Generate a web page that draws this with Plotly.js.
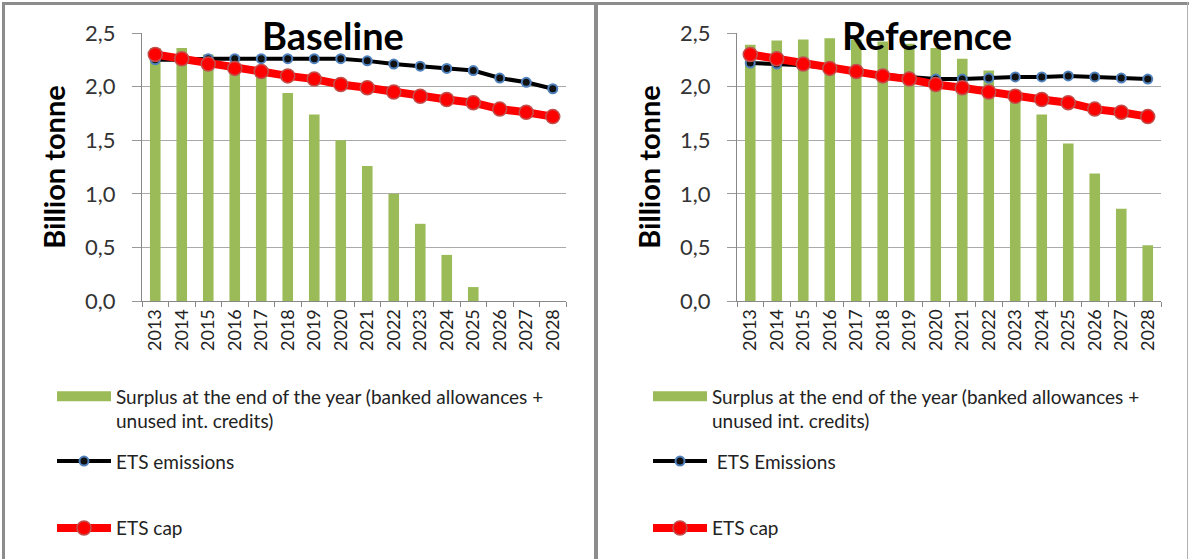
<!DOCTYPE html>
<html><head><meta charset="utf-8">
<script src="https://cdn.plot.ly/plotly-3.0.1.min.js"></script>
<style>
body{margin:0;background:#fff;width:1189px;height:559px;overflow:hidden;position:relative}
#left{position:absolute;left:0;top:0;width:597px;height:559px}
#right{position:absolute;left:598px;top:0;width:591px;height:559px}
.b{position:absolute;background:#8c8c8c;z-index:10}
</style></head><body>
<div id="left"></div><div id="right"></div>
<div class="b" style="left:2px;top:2px;width:1187px;height:3px"></div>
<div class="b" style="left:2px;top:2px;width:3px;height:557px"></div>
<div class="b" style="left:594px;top:2px;width:4px;height:557px"></div>
<div class="b" style="left:1187px;top:2px;width:1px;height:557px;background:#b0b0b0"></div>
<script>
const years = ['2013','2014','2015','2016','2017','2018','2019','2020','2021','2022','2023','2024','2025','2026','2027','2028'];
const baselineSurplus = [2.36,2.36,2.30,2.21,2.13,1.94,1.74,1.50,1.26,1.00,0.72,0.43,0.13,0,0,0];
const baselineEmissions = [2.25,2.25,2.26,2.26,2.26,2.26,2.26,2.26,2.24,2.21,2.19,2.17,2.15,2.08,2.04,1.98];
const baselineCap = [2.30,2.26,2.21,2.17,2.14,2.10,2.07,2.02,1.99,1.95,1.91,1.88,1.85,1.79,1.76,1.72];
const referenceSurplus = [2.39,2.43,2.44,2.45,2.44,2.42,2.40,2.36,2.26,2.15,1.97,1.74,1.47,1.19,0.86,0.52];
const referenceEmissions = [2.22,2.21,2.20,2.17,2.14,2.11,2.09,2.07,2.07,2.08,2.09,2.09,2.10,2.09,2.08,2.07];
const referenceCap = [2.30,2.26,2.21,2.17,2.14,2.10,2.07,2.02,1.99,1.95,1.91,1.88,1.85,1.79,1.76,1.72];
const surplusName = 'Surplus at the end of the year (banked allowances +<br>unused int. credits)';
const yTicks = [0,0.5,1,1.5,2,2.5];

const FONT = 'Lato, "Open Sans", sans-serif';
const PT = 33, PH = 268.5, PW = 424;

function draw(id, cfg){
  const W = cfg.width, H = 559;
  const traces = [
    {type:'bar', x:years, y:cfg.surplus, name:surplusName, marker:{color:'#9BBB59'}, showlegend:false, hoverinfo:'y'},
    {type:'scatter', mode:'lines', x:[years[0]], y:[null], name:surplusName, line:{color:'#9BBB59', width:10}, legend:'legend', showlegend:true, hoverinfo:'skip'},
    {type:'scatter', mode:'lines+markers', x:years, y:cfg.emissions, name:cfg.emName, legend:'legend2',
      line:{color:'#000000', width:4}, marker:{size:9, color:'#111111', line:{color:'#4F81BD', width:2}}},
    {type:'scatter', mode:'lines+markers', x:years, y:cfg.cap, name:'ETS cap', legend:'legend3',
      line:{color:'#FF0000', width:8}, marker:{size:14, color:'#FF0000', line:{color:'#C0504D', width:1.5}}}
  ];
  const px = v => (v - cfg.l) / PW;
  const py = v => 1 - (v - PT) / PH;
  const legBase = {xref:'paper', yref:'paper', xanchor:'left', yanchor:'top', bgcolor:'rgba(0,0,0,0)',
    font:{family:FONT, size:19, color:'#222'}, itemwidth:54, valign:'top', itemclick:false, itemdoubleclick:false};
  const layout = {
    width: W, height: H,
    margin:{l:cfg.l, r:W-cfg.l-PW, t:PT, b:H-PT-PH, pad:0, autoexpand:false},
    separators:', ',
    paper_bgcolor:'rgba(0,0,0,0)', plot_bgcolor:'rgba(0,0,0,0)',
    font:{family:FONT, color:'#333'},
    bargap:0.6,
    title:{text:cfg.title, font:{family:FONT, size:38, color:'#000', weight:'bold'}, x:cfg.titleX/W, xanchor:'center', xref:'container', y:1-37/H, yanchor:'middle', yref:'container'},
    xaxis:{type:'category', range:[-0.5, years.length-0.5], tickangle:-90, tickson:'boundaries', ticks:'outside', ticklen:5, tickcolor:'#888', showline:true, linecolor:'#888', linewidth:1, showgrid:false, tickfont:{family:FONT, size:18, color:'#222'}, fixedrange:true},
    yaxis:{range:[0,2.5], tickvals:yTicks, tickformat:'.1f', ticks:'outside', ticklen:9, tickcolor:'#999', showline:true, linecolor:'#888', linewidth:1, gridcolor:'#aaa', gridwidth:1, zeroline:false, ticklabelstandoff:12,
      tickfont:{family:FONT, size:22, color:'#333'}, fixedrange:true, automargin:true,
      title:{text:'Billion tonne', font:{family:FONT, size:29, color:'#000', weight:'bold'}, standoff:10}},
    legend: Object.assign({}, legBase, {x:px(cfg.legX), y:py(390-12)}),
    legend2: Object.assign({}, legBase, {x:px(cfg.legX), y:py(455-12)}),
    legend3: Object.assign({}, legBase, {x:px(cfg.legX), y:py(522-12)}),
    showlegend:true
  };
  Plotly.newPlot(id, traces, layout, {displayModeBar:false, staticPlot:true});
}

draw('left', {width:597, l:142, title:'Baseline', titleX:333, surplus:baselineSurplus, emissions:baselineEmissions, cap:baselineCap, emName:'ETS emissions', legX:52});
draw('right', {width:591, l:139, title:'Reference', titleX:329, surplus:referenceSurplus, emissions:referenceEmissions, cap:referenceCap, emName:'\u00a0ETS Emissions', legX:50});
</script>
</body></html>
